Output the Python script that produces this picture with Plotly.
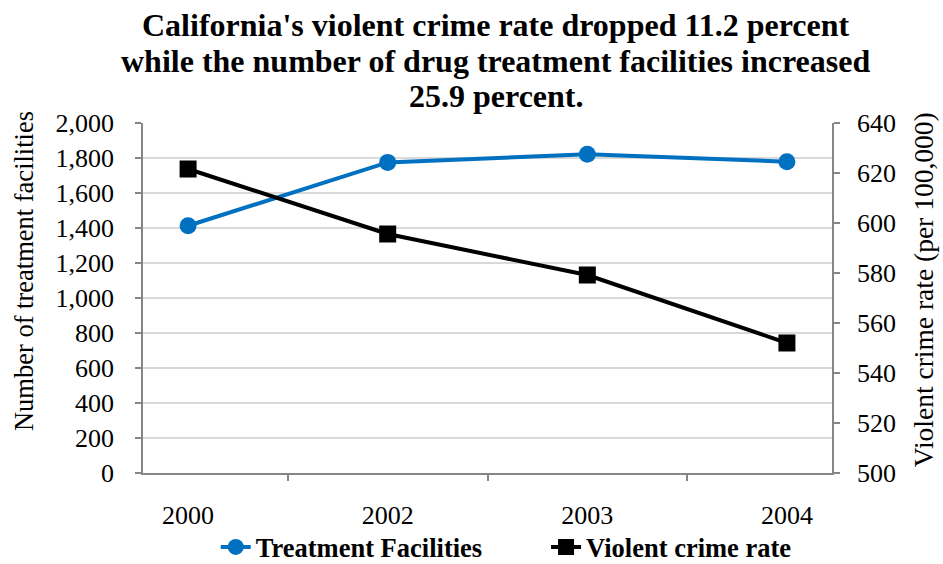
import plotly.graph_objects as go

years = ["2000", "2002", "2003", "2004"]
facilities = [1413, 1775, 1821, 1779]
crime_rate = [621.6, 595.6, 579.2, 552.0]

title_lines = [
    "California's violent crime rate dropped 11.2 percent",
    "while the number of drug treatment facilities increased",
    "25.9 percent.",
]
title_line_y = [1.28, 1.178, 1.077]

left_title = "Number of treatment facilities"
right_title = "Violent crime rate (per 100,000)"

serif = "Liberation Serif"
axis_grey = "#868686"

fig = go.Figure()
fig.add_trace(go.Scatter(
    x=years, y=facilities, name="Treatment Facilities",
    mode="lines+markers",
    line=dict(color="#0070C0", width=4),
    marker=dict(symbol="circle", size=17, color="#0070C0"),
    yaxis="y", legend="legend",
))
fig.add_trace(go.Scatter(
    x=years, y=crime_rate, name="Violent crime rate",
    mode="lines+markers",
    line=dict(color="#000000", width=4),
    marker=dict(symbol="square", size=17, color="#000000"),
    yaxis="y2", legend="legend2",
))

# three-line bold title, one annotation per line for tight line spacing
for line, ypos in zip(title_lines, title_line_y):
    fig.add_annotation(
        text=line, showarrow=False,
        xref="paper", yref="paper", x=0.512, y=ypos,
        xanchor="center", yanchor="middle",
        font=dict(family=serif, size=32, color="black", weight="bold"),
    )

# rotated axis titles
fig.add_annotation(
    text=left_title, showarrow=False, textangle=-90,
    xref="paper", yref="paper", x=-0.1727, y=0.577,
    xanchor="center", yanchor="middle",
    font=dict(family=serif, size=26.5, color="black"),
)
fig.add_annotation(
    text=right_title, showarrow=False, textangle=-90,
    xref="paper", yref="paper", x=1.134, y=0.523,
    xanchor="center", yanchor="middle",
    font=dict(family=serif, size=27.5, color="black"),
)

legend_style = dict(
    orientation="h", y=-0.212, yanchor="middle", xanchor="left",
    bgcolor="rgba(0,0,0,0)",
    font=dict(family=serif, size=26.5, color="black", weight="bold"),
)

fig.update_layout(
    width=943, height=564,
    margin=dict(l=143, r=111, t=123, b=91, autoexpand=False),
    paper_bgcolor="white", plot_bgcolor="white",
    font=dict(family=serif, size=26, color="black"),
    showlegend=True,
    legend=dict(x=0.1056, **legend_style),
    legend2=dict(x=0.585, **legend_style),
    xaxis=dict(
        type="category", showgrid=False,
        showline=True, linecolor=axis_grey, linewidth=1.5,
        ticks="outside", tickson="boundaries", ticklen=6, tickcolor=axis_grey,
        tickwidth=1.5, ticklabelstandoff=18,
        tickfont=dict(family=serif, size=26),
    ),
    yaxis=dict(
        range=[0, 2000], dtick=200, tickformat=",",
        showgrid=True, gridcolor="#d9d9d9", gridwidth=1.5,
        showline=True, linecolor=axis_grey, linewidth=1.5,
        ticks="outside", ticklen=6, tickcolor=axis_grey, tickwidth=1.5,
        zeroline=False, ticklabelstandoff=16,
        tickfont=dict(family=serif, size=26),
    ),
    yaxis2=dict(
        range=[500, 640], dtick=20, overlaying="y", side="right",
        showgrid=False, zeroline=False,
        showline=True, linecolor=axis_grey, linewidth=1.5,
        ticks="outside", ticklen=6, tickcolor=axis_grey, tickwidth=1.5,
        ticklabelstandoff=12,
        tickfont=dict(family=serif, size=26),
    ),
)

fig.write_html("out.html")
